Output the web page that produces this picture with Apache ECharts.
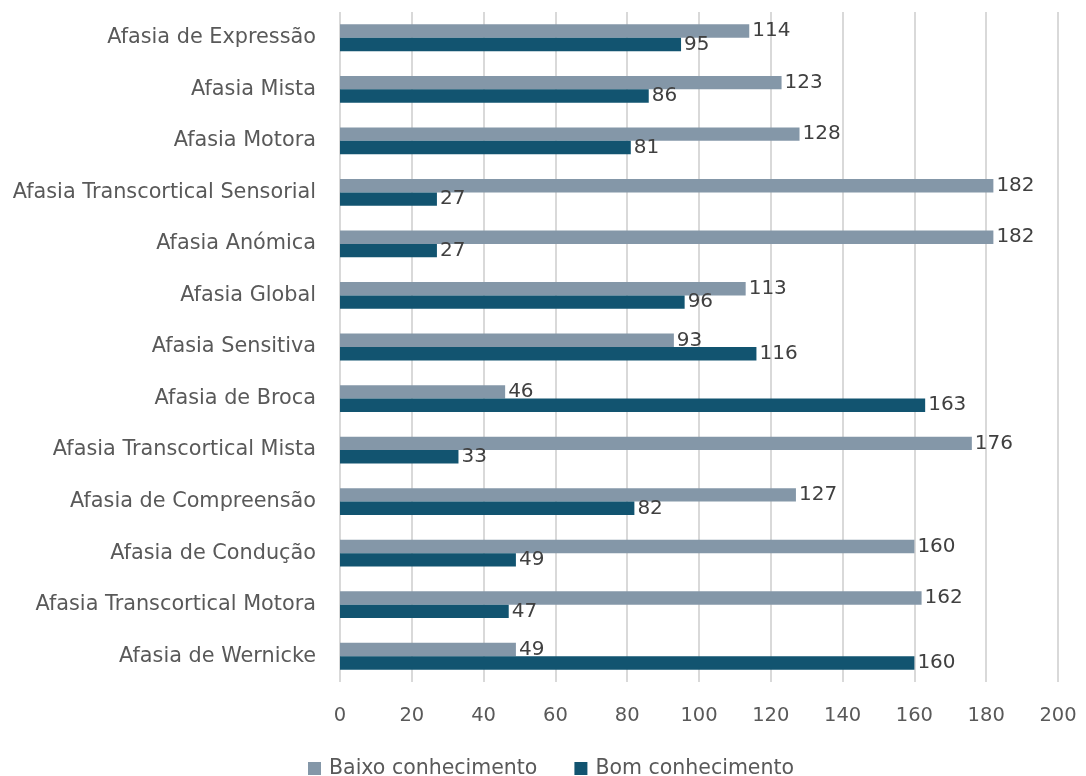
<!DOCTYPE html>
<html>
<head>
<meta charset="utf-8">
<script src="https://cdn.jsdelivr.net/npm/echarts@6/dist/echarts.min.js"></script>
<style>
  html, body { margin: 0; padding: 0; background: #fff; }
  #chart { width: 1086px; height: 776px; }
</style>
</head>
<body>
<div id="chart"></div>
<script>
// Categories listed bottom to top (value axis order)
const categories = [
  'Afasia de Wernicke',
  'Afasia Transcortical Motora',
  'Afasia de Condução',
  'Afasia de Compreensão',
  'Afasia Transcortical Mista',
  'Afasia de Broca',
  'Afasia Sensitiva',
  'Afasia Global',
  'Afasia Anómica',
  'Afasia Transcortical Sensorial',
  'Afasia Motora',
  'Afasia Mista',
  'Afasia de Expressão'
];
const baixoConhecimento = [49, 162, 160, 127, 176, 46, 93, 113, 182, 182, 128, 123, 114];
const bomConhecimento = [160, 47, 49, 82, 33, 163, 116, 96, 27, 27, 81, 86, 95];
const seriesNames = ['Baixo conhecimento', 'Bom conhecimento'];
const xTicks = { min: 0, max: 200, interval: 20 };

const FONT = 'DejaVu Sans';
const chart = echarts.init(document.getElementById('chart'), null, { renderer: 'canvas' });

const labelStyle = {
  show: true,
  position: 'right',
  distance: 3,
  color: '#404040',
  fontSize: 20,
  fontFamily: FONT
};

chart.setOption({
  animation: false,
  textStyle: { fontFamily: FONT },
  grid: { left: 340, right: 28, top: 12, bottom: 94, containLabel: false },
  legend: {
    top: 753,
    left: 303,
    itemWidth: 13,
    itemHeight: 13,
    itemGap: 37,
    icon: 'rect',
    textStyle: { fontSize: 20.5, color: '#595959', fontFamily: FONT, padding: [0, 0, 0, 3] },
    data: seriesNames
  },
  xAxis: {
    type: 'value',
    min: xTicks.min,
    max: xTicks.max,
    interval: xTicks.interval,
    axisLine: { show: false },
    axisTick: { show: false },
    axisLabel: { fontSize: 19.5, color: '#595959', margin: 24, fontFamily: FONT },
    splitLine: { show: true, lineStyle: { color: '#d9d9d9', width: 2 } }
  },
  yAxis: {
    type: 'category',
    data: categories,
    axisLine: { show: false },
    axisTick: { show: false },
    axisLabel: { fontSize: 20.8, color: '#595959', margin: 24, fontFamily: FONT }
  },
  series: [
    {
      name: seriesNames[0],
      type: 'bar',
      data: baixoConhecimento,
      barGap: '0%',
      barCategoryGap: '48%',
      itemStyle: { color: '#8497a8' },
      label: labelStyle
    },
    {
      name: seriesNames[1],
      type: 'bar',
      data: bomConhecimento,
      barGap: '0%',
      barCategoryGap: '48%',
      itemStyle: { color: '#125470' },
      label: labelStyle
    }
  ]
});
</script>
</body>
</html>
